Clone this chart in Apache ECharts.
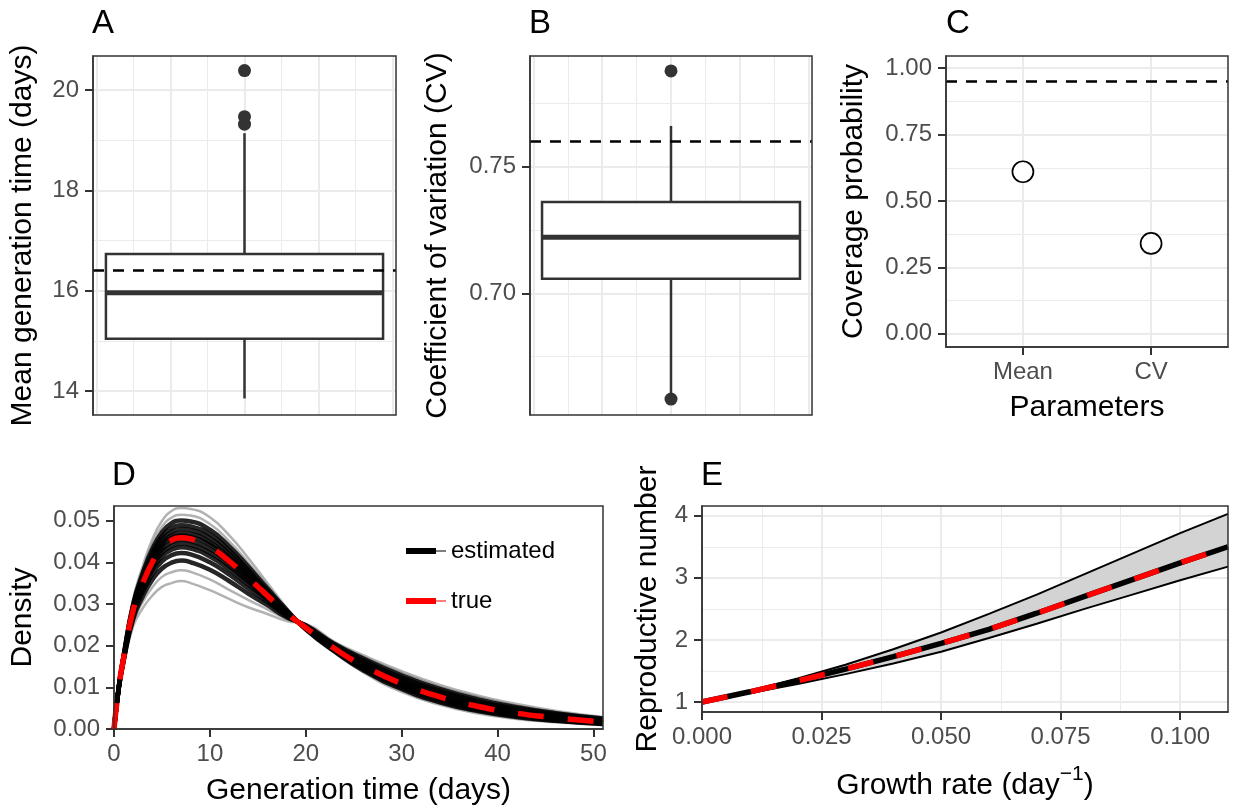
<!DOCTYPE html>
<html>
<head>
<meta charset="utf-8">
<title>Generation time estimates</title>
<script src="https://cdn.jsdelivr.net/npm/echarts@6/dist/echarts.min.js"></script>
<style>
  html, body { margin: 0; padding: 0; background: #fff; }
  #chart { width: 1233px; height: 808px; }
</style>
</head>
<body>
<div id="chart"></div>
<script>
// ---------- data ----------
// A: mean generation time, box = [x, lowWhisker, q1, median, q3, highWhisker]
const meanBox = [0, 13.85, 15.04, 15.96, 16.73, 19.14];
const meanOutliers = [20.39, 19.47, 19.32];
const meanTrue = 16.40;
const meanTicks = [14, 16, 18, 20];
const meanMinor = [15, 17, 19];

// B: coefficient of variation
const cvBox = [0, 0.6590, 0.7058, 0.7222, 0.7361, 0.7661];
const cvOutliers = [0.7878, 0.6583];
const cvTrue = 0.7587;
const cvTicks = [0.70, 0.75];
const cvMinor = [0.675, 0.725, 0.775];

// shared hidden x scale of the two boxplots
const boxXTicks = [-0.4, -0.2, 0, 0.2, 0.4];
const boxXMinor = [-0.3, -0.1, 0.1, 0.3];

// C: coverage probability
const paramNames = ['Mean', 'CV'];
const coverage = [0.61, 0.34];
const coverageTarget = 0.95;
const coverageTicks = [0, 0.25, 0.5, 0.75, 1];
const coverageMinor = [0.125, 0.375, 0.625, 0.875];

// D: generation time densities
const dayGrid = [0, 0.5, 1, 2, 3, 4, 5, 6, 7, 8, 10, 12, 14, 16, 18, 20, 23, 26, 30, 34, 38, 42, 46, 51];
const trueDensity = [0, 0.0100, 0.0170, 0.0285, 0.0350, 0.0400, 0.0435, 0.0453, 0.0459, 0.0456, 0.0437, 0.0403,
  0.0362, 0.0320, 0.0278, 0.0243, 0.0193, 0.0152, 0.0109, 0.0077, 0.0054, 0.0038, 0.0027, 0.0017];
const estCurves = [
  [0, 0.0104, 0.0181, 0.0312, 0.0391, 0.0455, 0.0499, 0.0523, 0.0530, 0.0528, 0.0508, 0.0465, 0.0410, 0.0350, 0.0291, 0.0236, 0.0183, 0.0136, 0.0089, 0.0058, 0.0037, 0.0024, 0.0016, 0.0009],
  [0, 0.0103, 0.0178, 0.0306, 0.0382, 0.0442, 0.0485, 0.0507, 0.0514, 0.0512, 0.0492, 0.0451, 0.0399, 0.0343, 0.0288, 0.0237, 0.0184, 0.0138, 0.0093, 0.0061, 0.0040, 0.0026, 0.0018, 0.0011],
  [0, 0.0102, 0.0176, 0.0300, 0.0374, 0.0432, 0.0472, 0.0494, 0.0500, 0.0498, 0.0478, 0.0439, 0.0390, 0.0337, 0.0286, 0.0239, 0.0186, 0.0141, 0.0096, 0.0064, 0.0043, 0.0029, 0.0020, 0.0012],
  [0, 0.0102, 0.0174, 0.0296, 0.0367, 0.0423, 0.0462, 0.0482, 0.0489, 0.0486, 0.0467, 0.0429, 0.0382, 0.0332, 0.0283, 0.0240, 0.0188, 0.0144, 0.0099, 0.0067, 0.0045, 0.0031, 0.0021, 0.0013],
  [0, 0.0101, 0.0173, 0.0293, 0.0362, 0.0416, 0.0454, 0.0473, 0.0480, 0.0477, 0.0458, 0.0421, 0.0376, 0.0329, 0.0282, 0.0241, 0.0190, 0.0147, 0.0102, 0.0071, 0.0048, 0.0033, 0.0023, 0.0014],
  [0, 0.0101, 0.0172, 0.0289, 0.0357, 0.0409, 0.0445, 0.0464, 0.0470, 0.0468, 0.0448, 0.0413, 0.0370, 0.0325, 0.0280, 0.0242, 0.0191, 0.0149, 0.0105, 0.0073, 0.0051, 0.0035, 0.0025, 0.0015],
  [0, 0.0100, 0.0171, 0.0287, 0.0353, 0.0404, 0.0439, 0.0458, 0.0464, 0.0461, 0.0442, 0.0407, 0.0365, 0.0322, 0.0279, 0.0243, 0.0192, 0.0151, 0.0107, 0.0075, 0.0053, 0.0037, 0.0026, 0.0016],
  [0, 0.0100, 0.0169, 0.0283, 0.0347, 0.0396, 0.0431, 0.0448, 0.0454, 0.0451, 0.0432, 0.0399, 0.0359, 0.0318, 0.0277, 0.0244, 0.0194, 0.0154, 0.0112, 0.0079, 0.0056, 0.0040, 0.0028, 0.0018],
  [0, 0.0099, 0.0168, 0.0280, 0.0342, 0.0389, 0.0423, 0.0439, 0.0445, 0.0442, 0.0423, 0.0391, 0.0353, 0.0314, 0.0275, 0.0245, 0.0196, 0.0157, 0.0115, 0.0083, 0.0059, 0.0042, 0.0030, 0.0019],
  [0, 0.0099, 0.0167, 0.0276, 0.0337, 0.0382, 0.0414, 0.0430, 0.0436, 0.0433, 0.0414, 0.0383, 0.0347, 0.0310, 0.0274, 0.0246, 0.0198, 0.0160, 0.0119, 0.0087, 0.0063, 0.0045, 0.0033, 0.0021],
  [0, 0.0098, 0.0165, 0.0271, 0.0329, 0.0372, 0.0402, 0.0417, 0.0422, 0.0419, 0.0400, 0.0371, 0.0337, 0.0305, 0.0271, 0.0247, 0.0201, 0.0165, 0.0124, 0.0092, 0.0067, 0.0049, 0.0036, 0.0023],
  [0, 0.0097, 0.0162, 0.0264, 0.0318, 0.0358, 0.0385, 0.0399, 0.0404, 0.0400, 0.0382, 0.0355, 0.0325, 0.0297, 0.0268, 0.0249, 0.0204, 0.0169, 0.0129, 0.0096, 0.0071, 0.0052, 0.0038, 0.0025],
  [0, 0.0096, 0.0158, 0.0256, 0.0305, 0.0340, 0.0365, 0.0376, 0.0381, 0.0377, 0.0359, 0.0334, 0.0310, 0.0287, 0.0264, 0.0250, 0.0206, 0.0173, 0.0134, 0.0101, 0.0076, 0.0056, 0.0041, 0.0027],
  [0, 0.0094, 0.0155, 0.0246, 0.0290, 0.0320, 0.0341, 0.0350, 0.0355, 0.0350, 0.0333, 0.0312, 0.0292, 0.0276, 0.0259, 0.0252, 0.0209, 0.0177, 0.0139, 0.0106, 0.0080, 0.0060, 0.0044, 0.0029]
];
const dayTicks = [0, 10, 20, 30, 40, 50];
const densityTicks = [0, 0.01, 0.02, 0.03, 0.04, 0.05];

// E: reproductive number vs growth rate
const growthRate = [0, 0.01, 0.02, 0.03, 0.04, 0.05, 0.06, 0.07, 0.08, 0.09, 0.10, 0.11];
const rCentral = [1.00, 1.165, 1.34, 1.53, 1.73, 1.945, 2.17, 2.43, 2.70, 2.97, 3.24, 3.50];
const rUpper = [1.00, 1.18, 1.38, 1.60, 1.85, 2.12, 2.42, 2.73, 3.06, 3.39, 3.72, 4.03];
const rLower = [1.00, 1.145, 1.29, 1.45, 1.62, 1.81, 2.03, 2.26, 2.50, 2.73, 2.96, 3.18];
const rateTicks = [0, 0.025, 0.05, 0.075, 0.1];
const rateMinor = [0.0125, 0.0375, 0.0625, 0.0875];
const rTicks = [1, 2, 3, 4];
const rMinor = [1.5, 2.5, 3.5];

// ---------- styling helpers ----------
const FONT = '"Liberation Sans", Arial, Helvetica, sans-serif';
const INK = '#333333';
const GRIDLINE = '#ebebeb';
const DASH = [26, 24];

function merge(a, b) {
  for (const k in b) {
    if (b[k] && typeof b[k] === 'object' && !Array.isArray(b[k]) && a[k] && typeof a[k] === 'object') merge(a[k], b[k]);
    else a[k] = b[k];
  }
  return a;
}

function valueAxis(gridIndex, min, max, ticks, extra) {
  return merge({
    type: 'value', gridIndex: gridIndex, min: min, max: max,
    axisLine: { show: true, onZero: false, lineStyle: { color: INK, width: 1.5 } },
    axisTick: { show: true, length: 8, customValues: ticks, lineStyle: { color: INK, width: 2 } },
    axisLabel: { show: true, customValues: ticks, margin: 14, color: '#4d4d4d', fontSize: 24, fontFamily: FONT },
    splitLine: { show: true, lineStyle: { color: GRIDLINE, width: 2 } },
    nameLocation: 'middle',
    nameTextStyle: { color: '#000', fontSize: 30, fontFamily: FONT }
  }, extra || {});
}

// thin minor grid lines, drawn by a hidden axis on the same grid
function minorAxis(gridIndex, min, max, ticks) {
  return {
    type: 'value', gridIndex: gridIndex, min: min, max: max,
    axisLine: { show: false, onZero: false },
    axisTick: { show: false, customValues: ticks },
    axisLabel: { show: false, customValues: ticks },
    splitLine: { show: true, lineStyle: { color: GRIDLINE, width: 1 } }
  };
}

function renderBox(params, api) {
  const x = api.value(0), half = 0.375;
  const low = api.value(1), q1 = api.value(2), med = api.value(3), q3 = api.value(4), high = api.value(5);
  const pHigh = api.coord([x, high]), pQ3 = api.coord([x, q3]);
  const pQ1 = api.coord([x, q1]), pLow = api.coord([x, low]);
  const tl = api.coord([x - half, q3]), br = api.coord([x + half, q1]);
  const mL = api.coord([x - half, med]), mR = api.coord([x + half, med]);
  const ink = { stroke: INK, lineWidth: 2.5 };
  return {
    type: 'group',
    children: [
      { type: 'line', shape: { x1: pHigh[0], y1: pHigh[1], x2: pQ3[0], y2: pQ3[1] }, style: ink },
      { type: 'line', shape: { x1: pQ1[0], y1: pQ1[1], x2: pLow[0], y2: pLow[1] }, style: ink },
      { type: 'rect', shape: { x: tl[0], y: tl[1], width: br[0] - tl[0], height: br[1] - tl[1] },
        style: { fill: '#fff', stroke: INK, lineWidth: 2.5 } },
      { type: 'line', shape: { x1: mL[0], y1: mL[1], x2: mR[0], y2: mR[1] }, style: { stroke: INK, lineWidth: 5 } }
    ]
  };
}

// grey ribbon between the lower and upper bounds of panel E
function renderBand(params, api) {
  const top = growthRate.map((g, i) => api.coord([g, rUpper[i]]));
  const bottom = growthRate.map((g, i) => api.coord([g, rLower[i]])).reverse();
  return { type: 'polygon', shape: { points: top.concat(bottom) }, style: { fill: '#d3d3d3' } };
}

function dashedAt(value) {
  return {
    silent: true, symbol: ['none', 'none'], label: { show: false }, animation: false,
    lineStyle: { color: '#000', width: 2.5, type: [11, 9] },
    data: [{ yAxis: value }]
  };
}

function pairs(xs, ys) { return xs.map((x, i) => [x, ys[i]]); }

const KEY_ICON = 'path://M0,0H30V6H0Z M30,2.4H40V3.6H30Z';

// ---------- chart ----------
const chart = echarts.init(document.getElementById('chart'), null, { renderer: 'canvas' });

const panelGrid = (left, top, width, height) => ({
  left: left, top: top, width: width, height: height,
  show: true, backgroundColor: 'transparent', borderColor: INK, borderWidth: 1.5, z: 10
});

const letters = [['A', 92, 7], ['B', 529, 7], ['C', 946, 7], ['D', 112, 459], ['E', 701, 459]];

const option = {
  animation: false,
  backgroundColor: '#fff',
  title: letters.map(([t, l, tp]) => ({
    text: t, left: l, top: tp, padding: 0,
    textStyle: { fontSize: 33, fontWeight: 'normal', color: '#000', fontFamily: FONT }
  })),
  grid: [
    panelGrid(93, 56, 303, 359),   // A
    panelGrid(530, 56, 282, 359),  // B
    panelGrid(946, 56, 282, 291),  // C
    panelGrid(114, 506, 489, 223), // D
    panelGrid(702, 506, 526, 206)  // E
  ],
  legend: {
    left: 401, top: 534, orient: 'vertical',
    itemWidth: 40, itemHeight: 6, itemGap: 26, selectedMode: false,
    textStyle: { color: '#000', fontSize: 24, fontFamily: FONT },
    data: [
      { name: 'estimated', icon: KEY_ICON, itemStyle: { color: '#000', opacity: 1 } },
      { name: 'true', icon: KEY_ICON, itemStyle: { color: '#ff0000', opacity: 1 } }
    ]
  },
  xAxis: [
    valueAxis(0, -0.41, 0.41, boxXTicks, { axisLine: { show: false }, axisTick: { show: false }, axisLabel: { show: false } }),
    minorAxis(0, -0.41, 0.41, boxXMinor),
    valueAxis(1, -0.41, 0.41, boxXTicks, { axisLine: { show: false }, axisTick: { show: false }, axisLabel: { show: false } }),
    minorAxis(1, -0.41, 0.41, boxXMinor),
    valueAxis(2, 0.4, 2.6, [1, 2], {
      axisLabel: { margin: 13, formatter: v => paramNames[Math.round(v) - 1] },
      name: 'Parameters', nameGap: 46
    }),
    valueAxis(3, 0, 51, dayTicks, {
      splitLine: { show: false },
      axisLabel: { margin: 13 },
      name: 'Generation time (days)', nameGap: 47
    }),
    valueAxis(4, 0, 0.11, rateTicks, {
      axisLabel: { margin: 13, formatter: v => v.toFixed(3) },
      name: 'Growth rate (day{sup|\u22121})', nameGap: 52,
      nameTextStyle: { rich: { sup: { fontSize: 21, fontFamily: FONT, color: '#000', padding: [0, 0, 22, 0] } } }
    }),
    minorAxis(4, 0, 0.11, rateMinor)
  ],
  yAxis: [
    valueAxis(0, 13.52, 20.68, meanTicks, { name: 'Mean generation time (days)', nameGap: 55 }),
    minorAxis(0, 13.52, 20.68, meanMinor),
    valueAxis(1, 0.652, 0.7937, cvTicks, {
      axisLabel: { formatter: v => v.toFixed(2) },
      name: 'Coefficient of variation (CV)', nameGap: 77
    }),
    minorAxis(1, 0.652, 0.7937, cvMinor),
    valueAxis(2, -0.05, 1.046, coverageTicks, {
      axisLabel: { formatter: v => v.toFixed(2) },
      name: 'Coverage probability', nameGap: 77
    }),
    minorAxis(2, -0.05, 1.046, coverageMinor),
    valueAxis(3, 0, 0.0535, densityTicks, {
      splitLine: { show: false },
      axisLabel: { formatter: v => v.toFixed(2) },
      name: 'Density', nameGap: 76
    }),
    valueAxis(4, 0.84, 4.156, rTicks, { name: 'Reproductive number', nameGap: 39 }),
    minorAxis(4, 0.84, 4.156, rMinor)
  ],
  series: [
    // A
    { type: 'custom', xAxisIndex: 0, yAxisIndex: 0, renderItem: renderBox, encode: { x: 0, y: [1, 2, 3, 4, 5] },
      data: [meanBox], silent: true, z: 2 },
    { type: 'scatter', xAxisIndex: 0, yAxisIndex: 0, data: meanOutliers.map(v => [0, v]),
      symbolSize: 13, itemStyle: { color: INK, opacity: 1 }, silent: true, z: 3,
      markLine: dashedAt(meanTrue) },
    // B
    { type: 'custom', xAxisIndex: 2, yAxisIndex: 2, renderItem: renderBox, encode: { x: 0, y: [1, 2, 3, 4, 5] },
      data: [cvBox], silent: true, z: 2 },
    { type: 'scatter', xAxisIndex: 2, yAxisIndex: 2, data: cvOutliers.map(v => [0, v]),
      symbolSize: 13, itemStyle: { color: INK, opacity: 1 }, silent: true, z: 3,
      markLine: dashedAt(cvTrue) },
    // C
    { type: 'scatter', xAxisIndex: 4, yAxisIndex: 4, data: coverage.map((v, i) => [i + 1, v]),
      symbolSize: 21, itemStyle: { color: '#fff', borderColor: '#000', borderWidth: 1.7, opacity: 1 },
      silent: true, z: 3, markLine: dashedAt(coverageTarget) },
    // D: outer curves light, the dense middle of the ensemble nearly black
    ...estCurves.map((curve, i) => {
      const core = i >= 2 && i <= 11;
      return {
        type: 'line', name: 'estimated', xAxisIndex: 5, yAxisIndex: 6,
        data: pairs(dayGrid, curve), smooth: true, showSymbol: false, symbol: 'none',
        lineStyle: { color: '#000', width: core ? 4.5 : 2.5, opacity: core ? 0.85 : 0.3 },
        itemStyle: { color: '#000' }, silent: true, z: 2
      };
    }),
    { type: 'line', name: 'true', xAxisIndex: 5, yAxisIndex: 6,
      data: pairs(dayGrid, trueDensity), smooth: true, showSymbol: false, symbol: 'none',
      lineStyle: { color: '#ff0000', width: 5.5, type: DASH }, itemStyle: { color: '#ff0000' },
      silent: true, z: 4 },
    // E
    { type: 'custom', xAxisIndex: 6, yAxisIndex: 7, renderItem: renderBand, data: [[0, 1]], silent: true, z: 2 },
    { type: 'line', name: 'lower', xAxisIndex: 6, yAxisIndex: 7,
      data: pairs(growthRate, rLower), showSymbol: false, symbol: 'none',
      lineStyle: { color: '#000', width: 2 }, silent: true, z: 4 },
    { type: 'line', name: 'upper', xAxisIndex: 6, yAxisIndex: 7,
      data: pairs(growthRate, rUpper), showSymbol: false, symbol: 'none',
      lineStyle: { color: '#000', width: 2 }, silent: true, z: 4 },
    { type: 'line', name: 'central', xAxisIndex: 6, yAxisIndex: 7,
      data: pairs(growthRate, rCentral), showSymbol: false, symbol: 'none',
      lineStyle: { color: '#000', width: 5.5 }, silent: true, z: 5 },
    { type: 'line', name: 'centralTrue', xAxisIndex: 6, yAxisIndex: 7,
      data: pairs(growthRate, rCentral), showSymbol: false, symbol: 'none',
      lineStyle: { color: '#ff0000', width: 5.5, type: DASH }, silent: true, z: 6 }
  ]
};

chart.setOption(option);
</script>
</body>
</html>
